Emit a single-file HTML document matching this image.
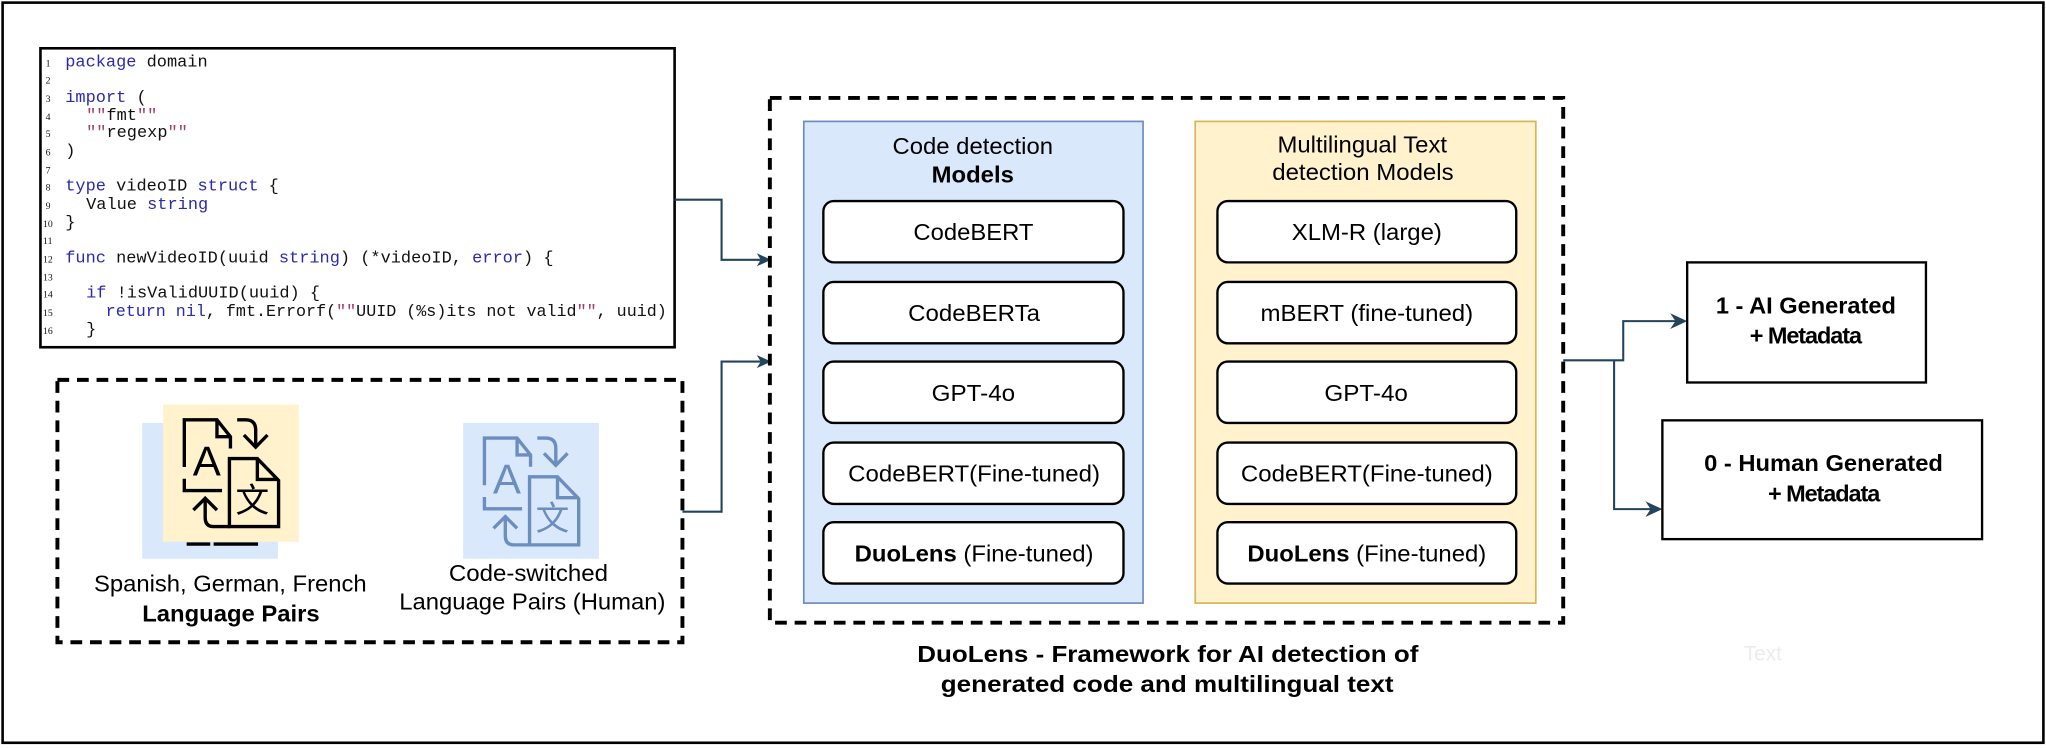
<!DOCTYPE html>
<html><head><meta charset="utf-8"><style>
html,body{margin:0;padding:0;background:#fff;width:2046px;height:748px;overflow:hidden}
svg{display:block}
svg text{font-family:"Liberation Sans",Arial,sans-serif}
.code{font-family:"Liberation Mono",monospace;font-size:13px;fill:#111}
.ln{font-family:"Liberation Serif",serif;font-size:7.5px;fill:#111}
.k{fill:#2a2ab0}.s{fill:#a0406a}
</style></head><body>
<svg width="2046" height="748" viewBox="0 0 1568 573" preserveAspectRatio="none" xmlns="http://www.w3.org/2000/svg">
<defs>
<g id="icon" fill="none" stroke-width="10">
<path d="M63,185 V45 H160 L200,95 V130 M160,45 V95 H200"/>
<path d="M63,220 V255 H175"/>
<path d="M220,45 H245 Q275,45 275,75 V128 M240,90 L275,126 L310,90"/>
<path d="M197,160 H280 L343,225 V362 H197 Z M280,160 V222 H343"/>
<path d="M197,362 H150 Q125,362 125,335 V282 M90,313 L125,278 L160,313"/>
</g>
</defs>
<rect x="2" y="2" width="1564" height="567" fill="none" stroke="#000" stroke-width="2"/>

<!-- code box -->
<rect x="31" y="37" width="486" height="229" fill="#fff" stroke="#000" stroke-width="2"/>
<text class="ln" x="35" y="51">1</text><text class="code" x="50" y="51"><tspan class="k">package</tspan> domain</text>
<text class="ln" x="35" y="64">2</text>
<text class="ln" x="35" y="78">3</text><text class="code" x="50" y="78"><tspan class="k">import</tspan> (</text>
<text class="ln" x="35" y="92">4</text><text class="code" x="66" y="92"><tspan class="s">""</tspan>fmt<tspan class="s">""</tspan></text>
<text class="ln" x="35" y="105">5</text><text class="code" x="66" y="105"><tspan class="s">""</tspan>regexp<tspan class="s">""</tspan></text>
<text class="ln" x="35" y="119">6</text><text class="code" x="50" y="119">)</text>
<text class="ln" x="35" y="133">7</text>
<text class="ln" x="35" y="146">8</text><text class="code" x="50" y="146"><tspan class="k">type</tspan> videoID <tspan class="k">struct</tspan> {</text>
<text class="ln" x="35" y="160">9</text><text class="code" x="66" y="160">Value <tspan class="k">string</tspan></text>
<text class="ln" x="33" y="174">10</text><text class="code" x="50" y="174">}</text>
<text class="ln" x="33" y="187">11</text>
<text class="ln" x="33" y="201">12</text><text class="code" x="50" y="201"><tspan class="k">func</tspan> newVideoID(uuid <tspan class="k">string</tspan>) (*videoID, <tspan class="k">error</tspan>) {</text>
<text class="ln" x="33" y="215">13</text>
<text class="ln" x="33" y="228">14</text><text class="code" x="66" y="228"><tspan class="k">if</tspan> !isValidUUID(uuid) {</text>
<text class="ln" x="33" y="242">15</text><text class="code" x="81" y="242" textLength="430" lengthAdjust="spacingAndGlyphs"><tspan class="k">return nil</tspan>, fmt.Errorf(<tspan class="s">""</tspan>UUID (%s)its not valid<tspan class="s">""</tspan>, uuid)</text>
<text class="ln" x="33" y="256">16</text><text class="code" x="66" y="256">}</text>

<!-- left dashed box -->
<rect x="44" y="291" width="479" height="201" fill="none" stroke="#000" stroke-width="3" stroke-dasharray="9,6"/>
<rect x="109" y="324" width="104" height="104" fill="#dae8fc"/>
<g transform="translate(125,310) scale(0.258)">
<path d="M70,414 H140 M150,414 H282" stroke="#000" stroke-width="10" fill="none"/>
</g>
<rect x="125" y="310" width="104" height="105" fill="#fff2cc"/>
<g transform="translate(125,310) scale(0.258)" stroke="#000">
<use href="#icon"/>
<text x="88" y="210" font-size="125" fill="#000" stroke="none">A</text>
<text x="265" y="318" font-size="100" text-anchor="middle" fill="#000" stroke="none" font-family="Noto Sans CJK SC,sans-serif">文</text>
</g>
<rect x="355" y="324" width="104" height="104" fill="#dae8fc"/>
<g transform="translate(355,324) scale(0.258)" stroke="#6c8ebf">
<use href="#icon"/>
<text x="88" y="210" font-size="125" fill="#6c8ebf" stroke="none">A</text>
<text x="265" y="318" font-size="100" text-anchor="middle" fill="#6c8ebf" stroke="none" font-family="Noto Sans CJK SC,sans-serif">文</text>
</g>
<text x="72" y="453" font-size="18" textLength="209" lengthAdjust="spacingAndGlyphs">Spanish, German, French</text>
<text x="109" y="476" font-size="18" font-weight="bold" textLength="136" lengthAdjust="spacingAndGlyphs">Language Pairs</text>
<text x="344" y="445" font-size="18" textLength="122" lengthAdjust="spacingAndGlyphs">Code-switched</text>
<text x="306" y="467" font-size="18" textLength="204" lengthAdjust="spacingAndGlyphs">Language Pairs (Human)</text>

<!-- connectors -->
<g stroke="#23445d" stroke-width="1.6" fill="none">
<path d="M517,153 H553 V199 H583"/>
<path d="M523,392 H553 V277 H583"/>
<path d="M1198,276 H1244 V246 H1285"/>
<path d="M1237,276 V390 H1266"/>
</g>
<g fill="#23445d">
<path d="M591,199 L580,194 L583,199 L580,204 Z"/>
<path d="M591,277 L580,272 L583,277 L580,282 Z"/>
<path d="M1293,246 L1280,240 L1284,246 L1280,252 Z"/>
<path d="M1274,390 L1261,384 L1265,390 L1261,396 Z"/>
</g>

<!-- big dashed box -->
<rect x="590" y="75" width="608" height="402" fill="none" stroke="#000" stroke-width="3" stroke-dasharray="9,6"/>
<rect x="616" y="93" width="260" height="369" fill="#dae8fc" stroke="#6c8ebf" stroke-width="1.3"/>
<rect x="916" y="93" width="261" height="369" fill="#fff2cc" stroke="#d6b656" stroke-width="1.3"/>
<text x="684" y="118" font-size="18" textLength="123" lengthAdjust="spacingAndGlyphs">Code detection</text>
<text x="714" y="140" font-size="18" font-weight="bold" textLength="63" lengthAdjust="spacingAndGlyphs">Models</text>
<text x="979" y="117" font-size="18" textLength="130" lengthAdjust="spacingAndGlyphs">Multilingual Text</text>
<text x="975" y="138" font-size="18" textLength="139" lengthAdjust="spacingAndGlyphs">detection Models</text>
<g fill="#fff" stroke="#000" stroke-width="1.8">
<rect x="631" y="154" width="230" height="47" rx="8"/>
<rect x="631" y="216" width="230" height="47" rx="8"/>
<rect x="631" y="277" width="230" height="47" rx="8"/>
<rect x="631" y="339" width="230" height="47" rx="8"/>
<rect x="631" y="400" width="230" height="47" rx="8"/>
<rect x="933" y="154" width="229" height="47" rx="8"/>
<rect x="933" y="216" width="229" height="47" rx="8"/>
<rect x="933" y="277" width="229" height="47" rx="8"/>
<rect x="933" y="339" width="229" height="47" rx="8"/>
<rect x="933" y="400" width="229" height="47" rx="8"/>
</g>
<g font-size="18">
<text x="700" y="184" textLength="92" lengthAdjust="spacingAndGlyphs">CodeBERT</text>
<text x="696" y="246" textLength="101" lengthAdjust="spacingAndGlyphs">CodeBERTa</text>
<text x="714" y="307" textLength="64" lengthAdjust="spacingAndGlyphs">GPT-4o</text>
<text x="650" y="369" textLength="193" lengthAdjust="spacingAndGlyphs">CodeBERT(Fine-tuned)</text>
<text x="655" y="430" textLength="183" lengthAdjust="spacingAndGlyphs"><tspan font-weight="bold">DuoLens</tspan> (Fine-tuned)</text>
<text x="990" y="184" textLength="115" lengthAdjust="spacingAndGlyphs">XLM-R (large)</text>
<text x="966" y="246" textLength="163" lengthAdjust="spacingAndGlyphs">mBERT (fine-tuned)</text>
<text x="1015" y="307" textLength="64" lengthAdjust="spacingAndGlyphs">GPT-4o</text>
<text x="951" y="369" textLength="193" lengthAdjust="spacingAndGlyphs">CodeBERT(Fine-tuned)</text>
<text x="956" y="430" textLength="183" lengthAdjust="spacingAndGlyphs"><tspan font-weight="bold">DuoLens</tspan> (Fine-tuned)</text>
</g>
<text x="703" y="507" font-size="18" font-weight="bold" textLength="384" lengthAdjust="spacingAndGlyphs">DuoLens - Framework for AI detection of</text>
<text x="721" y="530" font-size="18" font-weight="bold" textLength="347" lengthAdjust="spacingAndGlyphs">generated code and multilingual text</text>

<!-- outputs -->
<rect x="1293" y="201" width="183" height="92" fill="#fff" stroke="#000" stroke-width="1.8"/>
<rect x="1274" y="322" width="245" height="91" fill="#fff" stroke="#000" stroke-width="1.8"/>
<g font-size="18" font-weight="bold">
<text x="1315" y="240" textLength="138" lengthAdjust="spacingAndGlyphs">1 - AI Generated</text>
<text x="1341" y="263" textLength="86">+ Metadata</text>
<text x="1306" y="361" textLength="183" lengthAdjust="spacingAndGlyphs">0 - Human Generated</text>
<text x="1355" y="384" textLength="86">+ Metadata</text>
</g>
<text x="1351" y="506" font-size="16" text-anchor="middle" fill="#ececec">Text</text>
</svg>
</body></html>
